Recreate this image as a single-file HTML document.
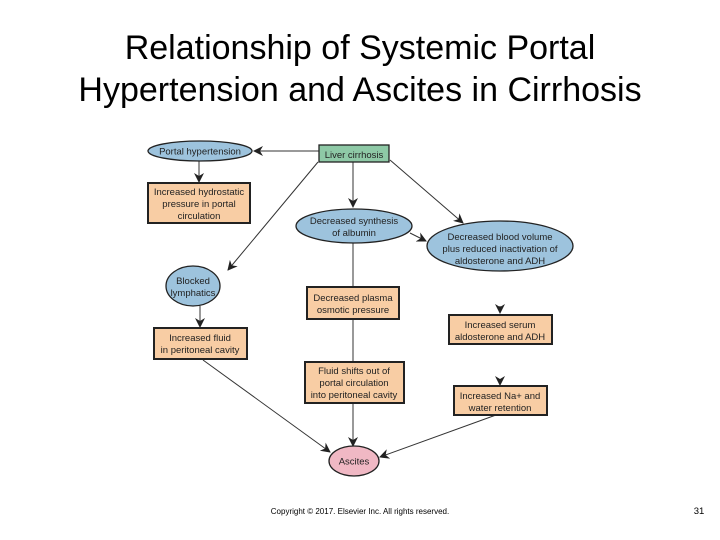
<!DOCTYPE html>
<html><head><meta charset="utf-8"><style>
html,body{margin:0;padding:0;background:#fff;}
body{width:720px;height:540px;position:relative;overflow:hidden;font-family:"Liberation Sans",Arial,sans-serif;}
.t{position:absolute;left:0;width:720px;text-align:center;font-size:34px;color:#000;line-height:42px;}
</style></head><body>
<div class="t" style="top:27px">Relationship of Systemic Portal</div>
<div class="t" style="top:69px">Hypertension and Ascites in Cirrhosis</div>
<svg width="720" height="540" style="position:absolute;left:0;top:0" font-family="Liberation Sans, Arial, sans-serif">
<defs><marker id="a" markerWidth="10" markerHeight="10" refX="9" refY="5" orient="auto" markerUnits="userSpaceOnUse">
<path d="M0,0 L10,5 L0,10 L3,5 Z" fill="#222"/></marker></defs>
<g stroke="#333" stroke-width="1" fill="none">
<line x1="319" y1="151" x2="254" y2="151" marker-end="url(#a)"/>
<line x1="353" y1="162" x2="353" y2="207" marker-end="url(#a)"/>
<line x1="390" y1="160" x2="463" y2="223" marker-end="url(#a)"/>
<line x1="318" y1="162" x2="228" y2="270" marker-end="url(#a)"/>
<line x1="199" y1="161" x2="199" y2="182" marker-end="url(#a)"/>
<line x1="410" y1="233" x2="426" y2="241" marker-end="url(#a)"/>
<line x1="353" y1="243" x2="353" y2="287"/>
<line x1="200" y1="306" x2="200" y2="327" marker-end="url(#a)"/>
<line x1="500" y1="306" x2="500" y2="313" marker-end="url(#a)"/>
<line x1="500" y1="381" x2="500" y2="385" marker-end="url(#a)"/>
<line x1="203" y1="360" x2="330" y2="452" marker-end="url(#a)"/>
<line x1="353" y1="319" x2="353" y2="362"/>
<line x1="353" y1="403" x2="353" y2="446" marker-end="url(#a)"/>
<line x1="496" y1="415" x2="380" y2="457" marker-end="url(#a)"/>
</g>
<g stroke="#222" stroke-width="1.3">
<ellipse cx="200" cy="151" rx="52" ry="10" fill="#9dc3dd"/>
<rect x="319" y="145" width="70" height="17" fill="#8ec9a6"/>
<rect x="148" y="183" width="102" height="40" fill="#f8cda4" stroke-width="2"/>
<ellipse cx="354" cy="226" rx="58" ry="17" fill="#9dc3dd"/>
<ellipse cx="500" cy="246" rx="73" ry="25" fill="#9dc3dd"/>
<ellipse cx="193" cy="286" rx="27" ry="20" fill="#9dc3dd"/>
<rect x="307" y="287" width="92" height="32" fill="#f8cda4" stroke-width="2"/>
<rect x="154" y="328" width="93" height="31" fill="#f8cda4" stroke-width="2"/>
<rect x="449" y="315" width="103" height="29" fill="#f8cda4" stroke-width="2"/>
<rect x="305" y="362" width="99" height="41" fill="#f8cda4" stroke-width="2"/>
<rect x="454" y="386" width="93" height="29" fill="#f8cda4" stroke-width="2"/>
<ellipse cx="354" cy="461" rx="25" ry="15" fill="#f0b8c4"/>
</g>
<g font-size="9.5" fill="#222" text-anchor="middle">
<text x="200" y="154.5">Portal hypertension</text>
<text x="354" y="158">Liver cirrhosis</text>
<text x="199" y="195">Increased hydrostatic</text>
<text x="199" y="207">pressure in portal</text>
<text x="199" y="219">circulation</text>
<text x="354" y="224">Decreased synthesis</text>
<text x="354" y="236">of albumin</text>
<text x="500" y="240">Decreased blood volume</text>
<text x="500" y="252">plus reduced inactivation of</text>
<text x="500" y="264">aldosterone and ADH</text>
<text x="193" y="284">Blocked</text>
<text x="193" y="296">lymphatics</text>
<text x="353" y="301">Decreased plasma</text>
<text x="353" y="313">osmotic pressure</text>
<text x="200" y="341">Increased fluid</text>
<text x="200" y="353">in peritoneal cavity</text>
<text x="500" y="328">Increased serum</text>
<text x="500" y="340">aldosterone and ADH</text>
<text x="354" y="374">Fluid shifts out of</text>
<text x="354" y="386">portal circulation</text>
<text x="354" y="398">into peritoneal cavity</text>
<text x="500" y="399">Increased Na+ and</text>
<text x="500" y="411">water retention</text>
<text x="354" y="464.5">Ascites</text>
</g>
<text x="360" y="514" font-size="8" text-anchor="middle" fill="#000">Copyright © 2017. Elsevier Inc. All rights reserved.</text>
<text x="699" y="514" font-size="9.5" text-anchor="middle" fill="#000">31</text>
</svg>
</body></html>
